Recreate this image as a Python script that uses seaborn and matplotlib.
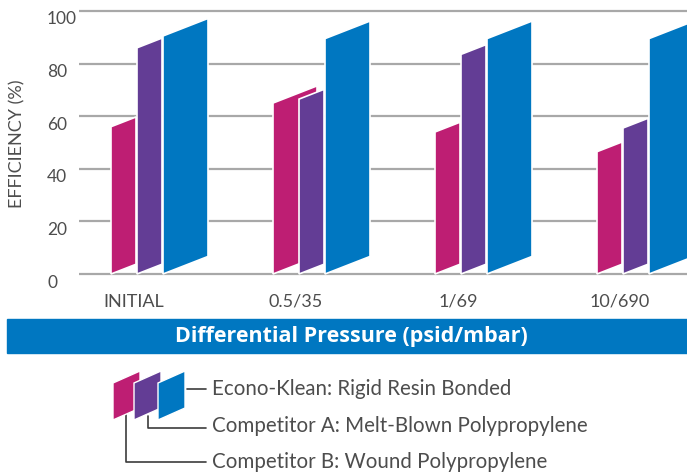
import numpy as np
import pandas as pd
import matplotlib
matplotlib.use("Agg")
import matplotlib.pyplot as plt
from matplotlib.patches import Polygon, Rectangle
from matplotlib.lines import Line2D
from matplotlib.transforms import Affine2D, ScaledTranslation
import seaborn as sns

# ---- data -------------------------------------------------------------
pressures = ["INITIAL", "0.5/35", "1/69", "10/690"]
competitor_b = [56, 65, 54, 46.5]        # wound polypropylene
competitor_a = [86, 66.5, 83.5, 55.5]    # melt-blown polypropylene
econo_klean = [90.5, 89.5, 89.5, 89.5]   # rigid resin bonded
series_names = [
    "Competitor B: Wound Polypropylene",
    "Competitor A: Melt-Blown Polypropylene",
    "Econo-Klean: Rigid Resin Bonded",
]
colors = ["#be1e73", "#633d95", "#0077c1"]
yticks = [0, 20, 40, 60, 80, 100]

df = pd.DataFrame({
    "pressure": pressures * 3,
    "efficiency": competitor_b + competitor_a + econo_klean,
    "filter": [series_names[0]] * 4 + [series_names[1]] * 4 + [series_names[2]] * 4,
})

# ---- style ------------------------------------------------------------
sns.set_theme(style="white")
plt.rcParams["font.family"] = ["Lato", "DejaVu Sans"]
TEXT = "#4d4d4d"

W, H = 687, 474
fig = plt.figure(figsize=(W / 100, H / 100), dpi=100)


def fx(px):
    return px / W


def fy(py):
    return 1 - py / H


# plot area: 0 % at y=274 px, 100 % at y=11 px
PX_PER_UNIT = 2.63
pad_units = 1.0
top_px = 11 - pad_units * PX_PER_UNIT
bot_px = 274 + pad_units * PX_PER_UNIT
ax = fig.add_axes([fx(79), fy(bot_px), fx(687) - fx(79), fy(top_px) - fy(bot_px)])

sns.barplot(data=df, x="pressure", y="efficiency", hue="filter",
            hue_order=series_names, palette=colors, saturation=1,
            edgecolor="white", linewidth=1.2, legend=False, ax=ax)

# group spacing of 162 px per category; bars become slanted panels
GROUP_PX = 162
offsets_px = [-23, 3, 29]
widths_px = [25, 25, 45]
slope = 0.39 * GROUP_PX / PX_PER_UNIT   # y-units per x-unit of slant

for k, cont in enumerate(ax.containers):
    for i, bar in enumerate(cont):
        w_px = widths_px[k]
        if k == 0 and i == 1:
            w_px = 44
        x0 = i + offsets_px[k] / GROUP_PX
        bar.set_x(x0)
        bar.set_width(w_px / GROUP_PX)
        shear = (Affine2D().translate(-x0, 0)
                 .skew(0, np.arctan(slope)).translate(x0, 0))
        bar.set_transform(shear + ax.transData)
        bar.set_clip_on(False)
        bar.set_zorder(3 + k)

ax.set_xlim((79 - 134) / GROUP_PX, (687 - 134) / GROUP_PX)
ax.set_ylim(-pad_units, 100 + pad_units)
ax.set_yticks(yticks)
ax.set_xlabel("")
ax.set_ylabel("")
for s in ax.spines.values():
    s.set_visible(False)
ax.yaxis.grid(True, color="#a8a8a8", linewidth=1.6)
ax.set_axisbelow(True)

ax.tick_params(axis="y", length=0, pad=23, labelsize=12.5, labelcolor=TEXT)
ax.tick_params(axis="x", length=0, pad=12.5, labelsize=13, labelcolor=TEXT)
shift = ScaledTranslation(0, -7 / 100, fig.dpi_scale_trans)
for lab in ax.get_yticklabels():
    lab.set_horizontalalignment("left")
    lab.set_transform(lab.get_transform() + shift)

fig.text(fx(17), fy(144), "EFFICIENCY (%)", rotation=90, ha="center",
         va="center", fontsize=13, color=TEXT)

# axis title band
fig.add_artist(Rectangle((fx(7), fy(353)), fx(687) - fx(7), fy(319) - fy(353),
                         transform=fig.transFigure, color=colors[2], zorder=1))
fig.text(fx(351), fy(336.5), "Differential Pressure (psid/mbar)", ha="center",
         va="center", fontsize=15.5, fontweight="bold", color="white", zorder=2,
         family=["Open Sans", "DejaVu Sans"])

# legend: slanted swatches with leader lines
sw_left = [113, 134, 158]
for k, xl in enumerate(sw_left):
    xr = xl + 27
    pts = [(fx(xl), fy(420)), (fx(xl), fy(383)), (fx(xr), fy(371)), (fx(xr), fy(408))]
    fig.add_artist(Polygon(pts, closed=True, transform=fig.transFigure,
                           facecolor=colors[k], edgecolor="white", linewidth=1.0,
                           zorder=3 + k))

LINE = "#3c3c3c"
leaders = [
    ([187, 206], [389, 389]),
    ([148, 148, 206], [416, 427.5, 427.5]),
    ([126, 126, 206], [412, 461.5, 461.5]),
]
for xs, ys in leaders:
    fig.add_artist(Line2D([fx(v) for v in xs], [fy(v) for v in ys],
                          transform=fig.transFigure, color=LINE, linewidth=1.2))

label_y = [389, 426, 462]
for name, yy in zip(series_names[::-1], label_y):
    fig.text(fx(212), fy(yy), name, ha="left", va="center", fontsize=14.8,
             color=TEXT)

fig.savefig("out.png", dpi=100)
